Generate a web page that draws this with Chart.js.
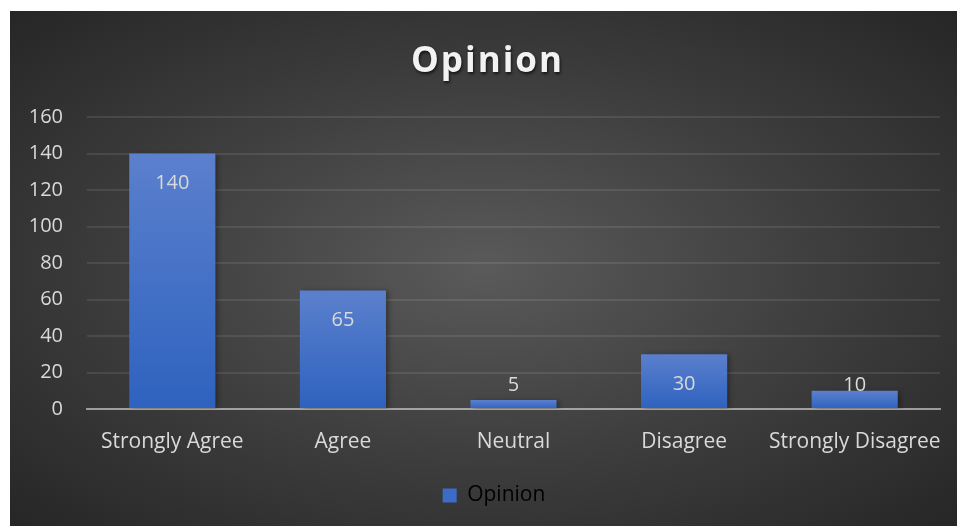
<!DOCTYPE html>
<html>
<head>
<meta charset="utf-8">
<script src="https://cdn.jsdelivr.net/npm/chart.js@4.4.1/dist/chart.umd.min.js"></script>
<style>
  html, body { margin: 0; padding: 0; background: #fff; }
  #panel {
    position: absolute; left: 10px; top: 11px; width: 947px; height: 515px;
    background: radial-gradient(ellipse at 50% 50%, #5a5a5a 0%, #3c3c3c 55%, #262626 100%);
  }
  canvas { display: block; }
</style>
</head>
<body>
<div id="panel"><canvas id="chart" width="947" height="515"></canvas></div>
<script>
const TITLE = 'Opinion';
const SERIES_NAME = 'Opinion';
const CATEGORIES = ['Strongly Agree', 'Agree', 'Neutral', 'Disagree', 'Strongly Disagree'];
const VALUES = [140, 65, 5, 30, 10];
const Y_MAX = 160;
const Y_STEP = 20;

const FONT = "'Open Sans', 'Noto Sans', sans-serif";
const TEXT = '#d9d9d9';

// Per-bar vertical gradient, like the Office fill.
function barFill(c) {
  const chart = c.chart;
  if (!chart.chartArea || c.raw == null) return '#3d6cc8';
  const y = chart.scales.y;
  const top = y.getPixelForValue(c.raw);
  const base = y.getPixelForValue(0);
  const g = chart.ctx.createLinearGradient(0, top, 0, Math.max(base, top + 1));
  g.addColorStop(0, '#5b80cd');
  g.addColorStop(1, '#2e62bf');
  return g;
}

const titlePlugin = {
  id: 'spacedTitle',
  afterDraw(chart) {
    const ctx = chart.ctx;
    ctx.save();
    ctx.font = `bold 35px ${FONT}`;
    ctx.letterSpacing = '2px';
    ctx.fillStyle = '#f2f2f2';
    ctx.textAlign = 'center';
    ctx.textBaseline = 'middle';
    ctx.shadowColor = 'rgba(0,0,0,0.65)';
    ctx.shadowOffsetX = 1;
    ctx.shadowOffsetY = 2;
    ctx.shadowBlur = 3;
    ctx.fillText(TITLE, chart.width / 2 + 4, 51);
    ctx.restore();
  },
};

// The Excel legend sits a little right of the chart centre.
const legendNudge = {
  id: 'legendNudge',
  afterLayout(chart) {
    if (!chart.legend) return;
    chart.legend.left += 19;
    chart.legend.right += 19;
  },
};

const barShadow = {
  id: 'barShadow',
  beforeDatasetsDraw(chart) {
    const ctx = chart.ctx;
    ctx.save();
    ctx.shadowColor = 'rgba(0,0,0,0.35)';
    ctx.shadowOffsetX = 3;
    ctx.shadowOffsetY = 1;
    ctx.shadowBlur = 5;
  },
  afterDatasetsDraw(chart) {
    chart.ctx.restore();
  },
};

// Labels sit inside the bar end; short bars push them up above the axis.
const valueLabels = {
  id: 'valueLabels',
  afterDatasetsDraw(chart) {
    const ctx = chart.ctx;
    const meta = chart.getDatasetMeta(0);
    const base = chart.scales.y.getPixelForValue(0);
    ctx.save();
    ctx.font = `20px ${FONT}`;
    ctx.fillStyle = TEXT;
    ctx.textAlign = 'center';
    ctx.textBaseline = 'middle';
    meta.data.forEach((bar, i) => {
      const y = Math.min(bar.y + 30, base - 24);
      ctx.fillText(String(VALUES[i]), bar.x, y);
    });
    ctx.restore();
  },
};

new Chart(document.getElementById('chart'), {
  type: 'bar',
  data: {
    labels: CATEGORIES,
    datasets: [{
      label: SERIES_NAME,
      data: VALUES,
      backgroundColor: barFill,
      borderWidth: 0,
      categoryPercentage: 1,
      barPercentage: 0.505,
    }],
  },
  options: {
    responsive: false,
    animation: false,
    layout: { padding: { top: 106, right: 17, left: 0, bottom: 10 } },
    plugins: {
      title: { display: false },
      tooltip: { enabled: false },
      legend: {
        position: 'bottom',
        labels: {
          color: TEXT,
          font: { family: FONT, size: 21 },
          boxWidth: 14,
          boxHeight: 14,
          padding: 10,
          generateLabels: () => [{
            text: SERIES_NAME, fillStyle: '#3d6cc8', strokeStyle: '#3d6cc8',
            lineWidth: 0, hidden: false, datasetIndex: 0,
          }],
        },
      },
    },
    scales: {
      x: {
        z: 1,
        grid: { display: false },
        border: { display: true, color: 'rgba(217,217,217,0.6)', width: 2 },
        ticks: { color: TEXT, font: { family: FONT, size: 21 }, padding: 12, maxRotation: 0, autoSkip: false },
        afterFit: (s) => { s.height = 66; },
      },
      y: {
        min: 0,
        max: Y_MAX,
        grid: { color: 'rgba(255,255,255,0.09)', lineWidth: 2, drawTicks: false },
        border: { display: false },
        ticks: { stepSize: Y_STEP, color: TEXT, font: { family: FONT, size: 20 }, padding: 24 },
        afterFit: (s) => { s.width = 77; },
      },
    },
  },
  plugins: [barShadow, valueLabels, titlePlugin, legendNudge],
});
</script>
</body>
</html>
